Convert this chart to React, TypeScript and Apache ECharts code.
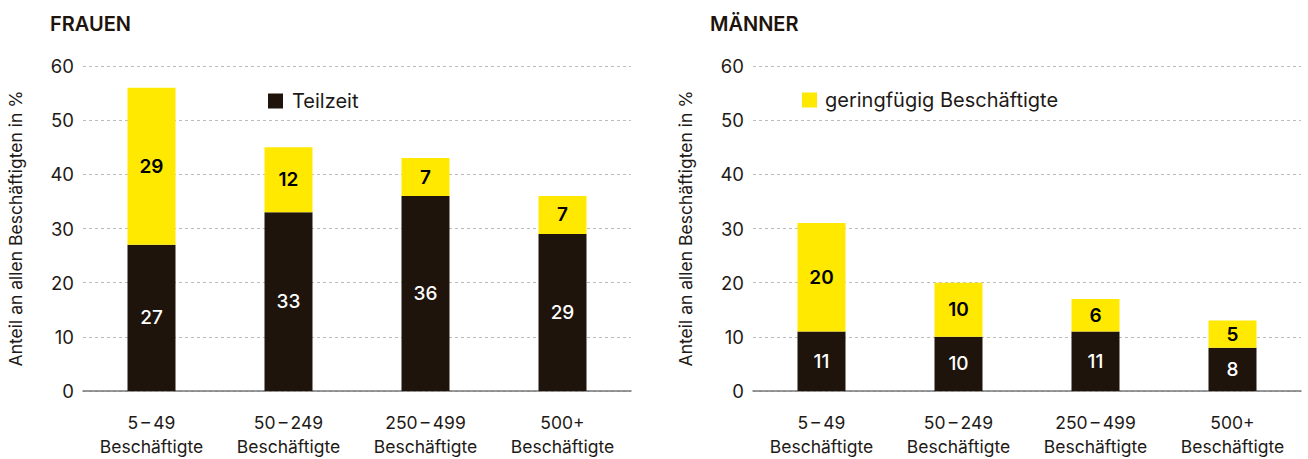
import React, { useEffect, useRef } from "react";
import * as echarts from "echarts";

const categories = ["5\u2009\u2013\u200949", "50\u2009\u2013\u2009249", "250\u2009\u2013\u2009499", "500+"];
const frauenTeilzeit = [27, 33, 36, 29];
const frauenGering = [29, 12, 7, 7];
const maennerTeilzeit = [11, 10, 11, 8];
const maennerGering = [20, 10, 6, 5];
const yTicks = [0, 10, 20, 30, 40, 50, 60];
const titles = ["FRAUEN", "MÄNNER"];
const yName = "Anteil an allen Beschäftigten in %";
const nameTeilzeit = "Teilzeit";
const nameGering = "geringfügig Beschäftigte";

const DARK = "#1e140b";
const YELLOW = "#ffe900";
const FONT = "Inter";
const TEXT = "#1e1a17";

export default function App() {
  const ref = useRef<HTMLDivElement>(null);
  useEffect(() => {
    if (!ref.current) return;
    const chart = echarts.init(ref.current, undefined, { renderer: "svg" });
    const grids = [
      { left: 83, top: 66, width: 548, height: 325 },
      { left: 753, top: 66, width: 548, height: 325 },
    ];
    const xAxis = grids.map((_, i) => ({
      type: "category",
      gridIndex: i,
      data: categories,
      axisTick: { show: false },
      axisLine: { lineStyle: { color: "#777", width: 1.5 } },
      axisLabel: {
        formatter: (v: string) => v + "\nBeschäftigte",
        fontFamily: FONT,
        fontSize: 17.5,
        lineHeight: 24,
        color: TEXT,
        margin: 19,
      },
    }));
    const yAxis = grids.map((_, i) => ({
      type: "value",
      gridIndex: i,
      min: yTicks[0],
      max: yTicks[yTicks.length - 1],
      interval: 10,
      name: yName,
      nameLocation: "middle",
      nameGap: 59,
      nameTextStyle: { fontFamily: FONT, fontSize: 17.5, color: TEXT },
      axisLine: { show: false },
      axisTick: { show: false },
      axisLabel: { fontFamily: FONT, fontSize: 18.5, color: TEXT, margin: 9 },
      splitLine: { lineStyle: { color: "#bbb", type: [3, 3], width: 1 } },
    }));
    const mk = (name: string, data: number[], idx: number, color: string, labelColor: string, weight: string) => ({
      name,
      type: "bar",
      stack: "s" + idx,
      xAxisIndex: idx,
      yAxisIndex: idx,
      data,
      barWidth: 48,
      itemStyle: { color },
      label: {
        show: true,
        position: "inside",
        color: labelColor,
        fontFamily: FONT,
        fontSize: 19,
        fontWeight: weight,
      },
    });
    chart.setOption({
      animation: false,
      grid: grids,
      xAxis,
      yAxis,
      legend: [
        {
          data: [nameTeilzeit],
          left: 263,
          top: 86,
          itemWidth: 15,
          itemHeight: 15,
          icon: "rect",
          selectedMode: false,
          textStyle: { fontFamily: FONT, fontSize: 20, color: TEXT, padding: [0, 0, 0, 4] },
        },
        {
          data: [nameGering],
          left: 797,
          top: 85,
          itemWidth: 15,
          itemHeight: 15,
          icon: "rect",
          selectedMode: false,
          textStyle: { fontFamily: FONT, fontSize: 20, color: TEXT, padding: [0, 0, 0, 3] },
        },
      ],
      title: [
        { text: titles[0], left: 45, top: 9, textStyle: { fontFamily: FONT, fontSize: 20, fontWeight: 600, color: DARK } },
        { text: titles[1], left: 705, top: 9, textStyle: { fontFamily: FONT, fontSize: 20, fontWeight: 600, color: DARK } },
      ],
      series: [
        mk(nameTeilzeit, frauenTeilzeit, 0, DARK, "#fff", "500"),
        mk(nameGering, frauenGering, 0, YELLOW, "#000", "600"),
        mk(nameTeilzeit, maennerTeilzeit, 1, DARK, "#fff", "500"),
        mk(nameGering, maennerGering, 1, YELLOW, "#000", "600"),
      ],
    });
    return () => chart.dispose();
  }, []);
  return (
    <div
      ref={ref}
      style={{ position: "absolute", left: 0, top: 0, width: 1308, height: 459, background: "#fff" }}
    />
  );
}
